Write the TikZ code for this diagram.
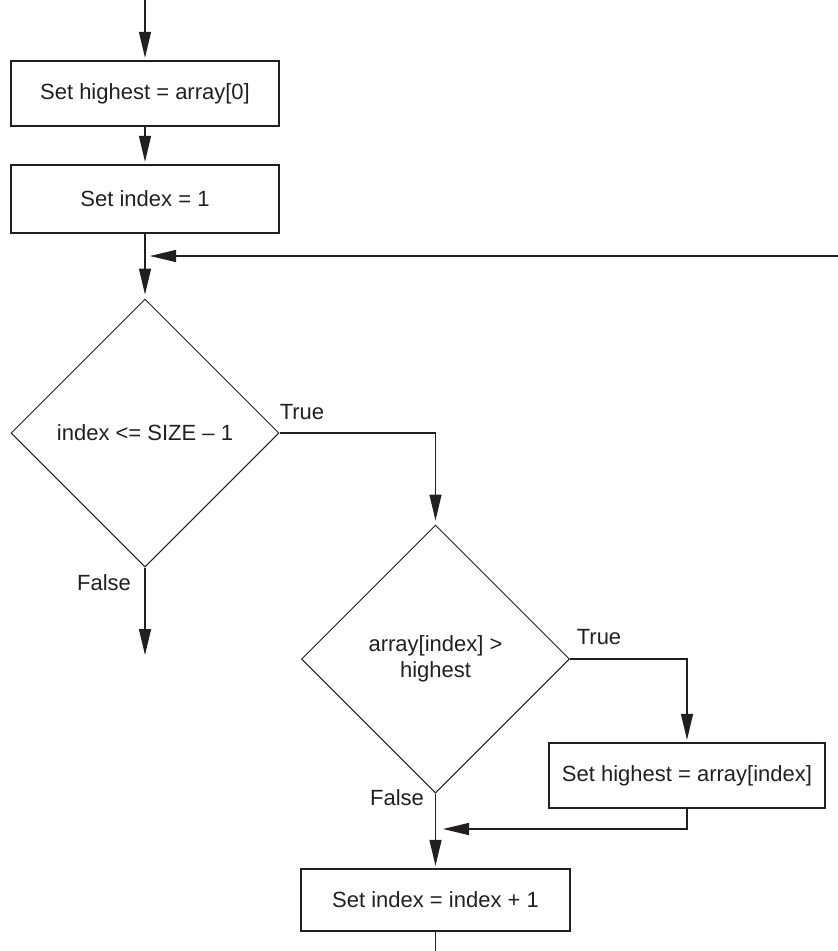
\documentclass[tikz,border=0pt]{standalone}
\usepackage{fontspec}
\setmainfont{Liberation Sans}
\usetikzlibrary{shapes.geometric,arrows.meta}
\definecolor{ink}{RGB}{35,31,32}
\begin{document}
\begin{tikzpicture}[x=1pt,y=-1pt,
  every node/.style={font=\fontsize{22}{26}\selectfont, text=ink},
  procbox/.style={draw=ink, line width=1.3pt, rectangle, inner sep=0pt, align=center},
  decision/.style={draw=ink, line width=1pt, diamond, aspect=1, minimum width=268pt, minimum height=268pt, inner sep=0pt, align=center},
  conn/.style={draw=ink, line width=1.3pt},
  arr/.style={conn, -{Triangle[length=26pt,width=12pt]}, shorten >=2.5pt},
  lbl/.style={inner sep=0pt}
]
\useasboundingbox (0,0) rectangle (838,951);

\coordinate (start) at (145,0);
\node[procbox, minimum width=268pt, minimum height=65pt] (b1) at (145,93.5) {Set highest = array[0]};
\node[procbox, minimum width=268pt, minimum height=68pt] (b2) at (145,199) {Set index = 1};
\node[decision] (d1) at (145,433) {index <= SIZE -- 1};
\coordinate (loopin) at (838,256);
\coordinate (loopend) at (150,256);
\coordinate (exitend) at (145,655);
\node[decision] (d2) at (435.5,659) {array[index] >\\highest};
\node[procbox, minimum width=276pt, minimum height=65pt] (b3) at (687,775.5) {Set highest = array[index]};
\coordinate (merge) at (443,829);
\node[procbox, minimum width=269pt, minimum height=62pt] (b4) at (435.5,900) {Set index = index + 1};
\coordinate (finish) at (435.5,951);

\node[lbl] (t1) at (302,412) {True};
\node[lbl] (f1) at (104,583) {False};
\node[lbl] (t2) at (599,637) {True};
\node[lbl] (f2) at (397,798) {False};

\draw[arr] (start) -- (b1.north);
\draw[arr] (b1.south) -- (b2.north);
\draw[arr, shorten >=4pt] (b2.south) -- (d1.north);
\draw[arr, shorten >=0pt] (loopin) -- (loopend);
\draw[arr, shorten >=0pt] (d1.south) -- (exitend);
\draw[arr, shorten >=4pt] (d1.east) -| (d2.north);
\draw[arr] (d2.east) -| (b3.north);
\draw[arr, shorten >=0pt] (b3.south) |- (merge);
\draw[arr] (d2.south) -- (b4.north);
\draw[conn] (b4.south) -- (finish);
\end{tikzpicture}
\end{document}
